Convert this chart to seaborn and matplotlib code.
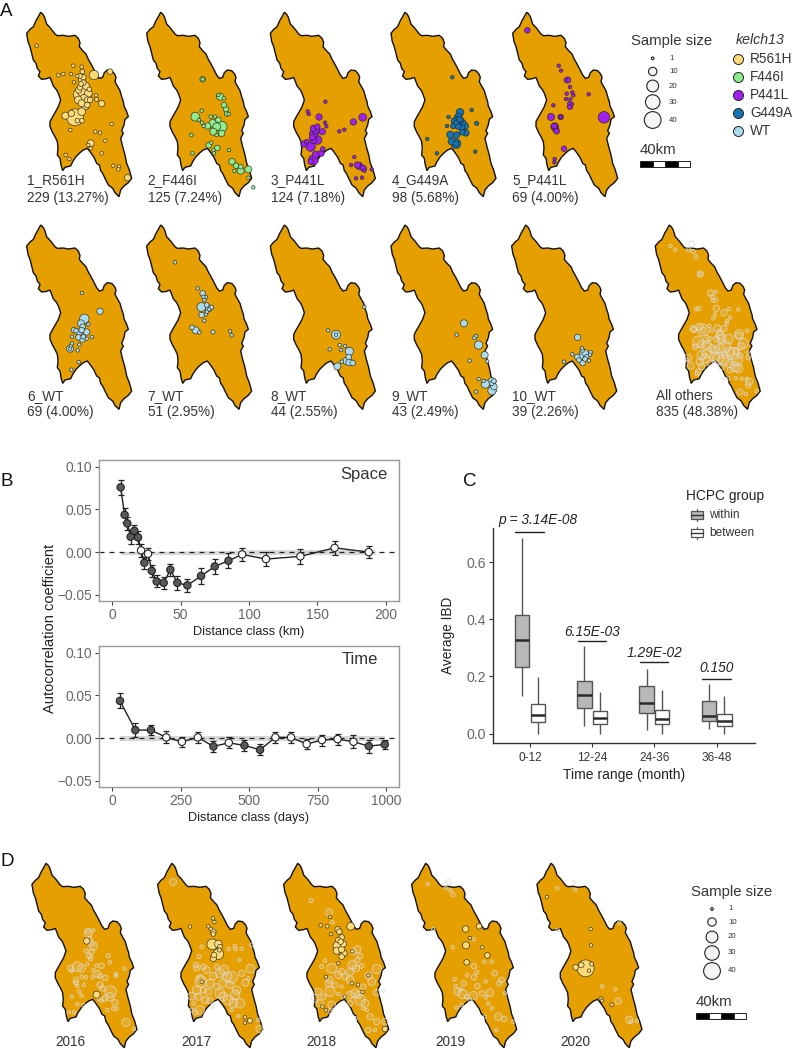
import matplotlib
matplotlib.use("Agg")
import matplotlib.pyplot as plt
from matplotlib.patches import Rectangle
import numpy as np
import pandas as pd
import seaborn as sns

sns.set_theme(style="white")
plt.rcParams["font.family"] = ["Liberation Sans", "DejaVu Sans"]

W, H = 793, 1049

# ---------- province outline, in map units ----------
OUTLINE_X = [122,128,133,137,140,152,165,172,190,205,225,235,240,238,248,258,265,272,280,290,298,308,313,322,335,344,348,345,352,360,365,370,372,380,385,375,372,365,370,362,368,375,380,388,395,385,372,362,357,345,338,325,315,308,302,298,290,282,270,262,250,240,228,218,212,195,188,183,180,172,174,172,165,158,150,150,158,165,175,182,175,170,160,155,150,140,125,115,120,112,108,100,95,90,84,80,90,100,108,115,122]
OUTLINE_Y = [37,42,50,62,72,85,102,107,106,109,106,115,128,140,152,162,178,190,205,225,235,232,218,210,212,222,232,245,258,272,290,305,318,335,350,358,375,392,400,415,440,465,490,510,535,548,558,570,590,578,565,555,535,520,512,495,490,472,455,445,450,458,470,485,498,502,512,495,475,465,445,425,410,398,380,365,350,338,320,300,280,270,258,245,232,236,238,228,215,205,190,180,160,140,125,100,88,80,62,50,37]

# ---------- sampling sites per panel: (x, y, sample size) ----------
R561H = [(225,352,30),(241,283,20),(282,225,9),(250,272,16),(255,305,9),(262,290,8),(265,280,6),(258,258,5),(245,240,4),(250,232,3),(240,228,2),(247,215,2),(245,200,1),(220,197,1),(213,222,1),(190,222,1),(175,226,1),(222,247,1),(305,311,4),(290,298,1.5),(288,286,1),(256,318,6),(245,335,6),(214,340,4),(196,347,5),(211,390,1),(232,228,1),(330,215,3),(335,372,1),(286,395,1),(300,398,1),(316,422,1),(272,430,5),(265,435,1),(272,445,1),(305,460,1),(197,465,1),(208,477,1),(340,497,1),(357,500,1),(355,508,1),(383,533,4),(110,137,1),(250,248,3),(240,262,3),(268,268,2),(262,315,3),(235,300,6),(270,300,3),(232,362,2),(246,362,2),(243,252,2),(252,295,6),(245,310,5),(236,270,4),(262,300,4)]
F446I = [(248,238,3),(248,238,1),(226,350,8),(245,332,1),(237,360,1),(246,368,1),(251,378,1),(263,378,4),(278,370,6),(290,380,6),(305,380,12),(295,360,3),(280,395,5),(290,405,1),(305,400,4),(285,350,1),(272,350,1),(214,405,1),(266,436,3),(274,428,1),(292,444,3),(280,450,1),(282,460,1),(217,460,1),(327,450,1),(300,290,5),(295,285,1),(312,295,1),(312,315,3),(318,328,3),(320,342,2),(326,342,1),(336,485,4),(348,497,3),(362,512,5),(385,508,5),(343,513,1),(362,500,2),(385,533,1),(400,562,1)]
P441L_3 = [(245,305,1),(192,334,1),(195,342,1),(226,351,4),(244,368,1),(248,379,1),(236,395,4),(209,385,4),(216,390,6),(221,380,3),(211,400,8),(206,412,4),(221,420,8),(209,420,5),(181,432,4),(201,440,9),(189,425,2),(232,460,4),(216,464,5),(209,480,10),(201,485,3),(237,447,2),(329,366,4),(357,352,6),(287,394,1),(302,389,1),(332,471,1),(322,495,1),(341,495,4),(347,498,5),(359,505,4),(362,512,1),(337,535,1),(355,533,1),(384,508,1)]
G449A = [(264,232,1),(322,330,1),(253,351,1),(337,370,1.5),(248,378,1),(189,417,1),(218,460,1),(333,455,1),(287,337,6),(282,350,5),(277,358,4),(289,360,4),(269,362,3),(277,368,3),(295,368,4),(302,378,5),(267,378,3),(282,380,3),(292,383,4),(277,405,4),(258,404,5),(294,397,3),(305,399,4),(262,424,5),(275,431,10),(275,431,3),(285,358,3)]
P441L_5 = [(124,91,3),(218,197,1),(225,212,1),(245,240,4),(239,240,1),(252,261,1),(242,281,1),(259,277,1),(262,286,1),(240,297,1),(253,298,1),(308,283,1),(202,316,1),(252,320,3),(258,312,1),(250,310,1),(195,351,5),(224,351,3),(224,351,1),(354,352,14),(206,380,6),(205,378,3),(209,388,4),(212,394,3),(234,446,3),(206,477,1),(205,487,1)]
WT_6 = [(246,241,1),(300,296,4),(253,318,9),(243,332,5),(248,342,3),(265,335,1),(222,352,3),(228,354,2),(237,359,4),(260,358,4),(245,352,3),(235,374,3),(247,379,4),(260,378,1),(276,373,1),(216,372,1),(238,396,1),(216,392,1),(213,399,1),(210,408,5),(210,408,1),(233,413,1),(236,448,1),(214,471,1),(250,372,2)]
WT_7 = [(165,149,1),(233,227,1),(248,242,3),(250,252,1),(258,254,1),(253,262,1),(244,283,8),(260,277,2),(266,287,4),(274,284,2),(261,297,1),(245,307,3),(258,305,1),(253,324,1),(216,344,2),(227,353,5),(238,359,1),(279,358,1.5),(330,355,1),(335,368,1),(268,290,1)]
WT_8 = [(253,353,1),(277,366,8),(277,366,1),(288,397,1),(304,400,1),(258,410,1),(292,412,1),(317,416,7),(315,433,3),(309,445,6),(317,449,5),(327,451,3),(294,447,1),(281,461,5),(362,283,1)]
WT_9 = [(299,332,5),(277,366,1),(331,375,1.5),(336,370,1),(343,397,7),(361,427,5),(369,446,1),(316,444,1),(343,499,1),(363,514,7),(383,507,7),(389,522,4),(383,534,7),(389,505,2),(336,537,1),(358,505,1),(382,512,2)]
WT_10 = [(278,374,4),(262,425,1),(237,447,1),(291,407,1),(292,412,2),(297,424,9),(287,432,3),(277,433,3),(282,442,2),(293,451,3),(312,444,1),(317,419,1.5),(315,426,1),(305,432,2),(300,439,2)]
OTHERS = [(126,100,1),(140,111,1),(180,111,1.5),(189,94,4),(194,117,1.5),(202,132,1.5),(215,184,4),(215,184,1),(246,241,4),(262,238,1),(252,252,2),(262,262,1.5),(254,264,1),(263,287,4),(203,289,1),(211,287,1.5),(286,300,4),(301,289,1),(329,290,1),(259,305,1),(254,317,1),(305,314,1),(295,325,1),(294,332,1),(243,339,1),(224,352,14),(224,352,3),(212,342,5),(194,348,4),(196,351,3),(266,347,5),(286,347,4),(249,354,1),(274,359,3),(356,354,1),(331,365,9),(331,369,5),(299,379,10),(274,369,8),(279,379,8),(264,379,4),(234,372,1),(246,377,1),(209,387,14),(219,395,6),(234,397,9),(344,392,10),(337,401,5),(289,402,14),(274,407,9),(259,412,6),(314,422,14),(304,417,9),(324,442,14),(334,429,4),(357,419,1),(234,422,8),(219,427,9),(229,437,8),(214,447,6),(179,435,5),(174,442,1),(186,459,5),(269,437,14),(284,442,12),(259,432,9),(319,462,10),(304,452,8),(329,467,8),(279,462,4),(304,472,3),(219,462,4),(209,477,3),(244,452,3),(206,483,2),(284,497,1),(299,497,1),(321,497,1),(339,498,1),(354,499,1),(362,507,5),(359,517,3),(384,535,1),(334,538,4),(352,544,1),(359,435,2),(324,415,4),(289,427,5),(249,407,6),(199,402,3),(239,387,1)]

G2016 = [(249,247,6),(248,240,3),(264,238,1),(254,262,2),(259,277,3),(264,285,7),(242,300,1.5),(259,302,3),(252,315,3),(256,322,2),(246,339,1),(309,314,1.5),(314,334,1),(216,347,10),(229,352,6),(196,352,4),(199,359,1),(289,344,3),(274,344,1),(264,357,1),(276,369,5),(284,375,2),(262,379,1),(242,379,1),(229,377,1),(212,387,3),(212,395,2),(216,405,1),(236,402,1),(332,369,1),(332,375,1),(358,353,1),(300,381,3),(284,402,4),(292,412,3),(316,422,14),(314,437,7),(329,455,4),(299,442,3),(281,444,1),(289,449,1),(222,422,1),(229,434,1),(199,437,1),(216,460,1),(234,462,1),(324,473,1),(334,473,1),(306,477,1),(190,484,1),(206,484,1),(362,514,7),(386,534,1)]
Y2016 = [(244,270,4),(274,431,5)]
G2017 = [(126,93,5),(212,287,1),(204,317,1.5),(293,294,1),(311,285,1),(313,294,1),(332,293,1),(325,327,1),(358,353,8),(332,367,4),(352,382,1),(343,395,5),(195,342,3),(197,352,3),(217,347,3),(227,357,5),(257,347,2),(302,379,14),(279,357,10),(289,377,9),(267,367,8),(247,375,6),(210,392,14),(207,382,6),(237,397,7),(257,407,4),(275,397,6),(297,402,5),(317,417,7),(312,432,9),(267,427,10),(277,437,8),(292,447,10),(307,457,8),(327,457,9),(197,417,8),(182,435,6),(202,437,5),(217,417,4),(232,422,5),(222,447,5),(237,449,4),(189,457,1.5),(207,477,8),(192,484,3),(182,477,1.5),(245,467,1),(302,477,1),(322,495,1),(385,534,5),(382,507,1),(359,507,1),(247,239,2),(362,282,1.5)]
Y2017 = [(177,227,1),(246,202,1),(250,213,1),(232,226,1),(239,233,1),(247,242,3),(247,249,2),(244,280,12),(262,279,6),(267,287,2),(262,309,12),(249,312,3),(247,322,4),(212,392,1),(342,499,1),(357,509,2.5),(342,515,1),(265,297,1.5)]
G2018 = [(162,149,1.5),(216,184,5),(226,214,1),(301,295,5),(289,302,3),(309,315,3),(301,327,3),(194,347,1.5),(204,329,1),(224,352,10),(359,354,9),(314,345,2),(286,342,8),(279,362,6),(297,352,5),(334,374,5),(254,362,4),(244,372,5),(219,387,4),(264,377,4),(279,387,6),(344,392,6),(359,425,4),(381,419,1),(214,397,5),(234,402,3),(219,422,10),(184,422,5),(199,437,3),(174,442,6),(189,457,5),(224,462,6),(279,457,3),(294,427,8),(279,432,6),(309,447,12),(324,457,6),(304,432,5),(319,407,3),(259,437,1.5),(254,407,1),(329,477,1),(339,497,4),(359,512,4),(384,512,4),(334,537,3),(297,502,1),(354,537,1),(219,482,1.5),(244,429,1),(319,472,1)]
Y2018 = [(281,226,6),(242,235,3),(247,242,3),(254,259,3),(259,279,4),(242,285,9),(239,299,5),(254,295,4),(261,307,4),(254,317,3),(244,267,3),(251,272,3),(244,337,1),(219,198,1),(191,223,1),(211,226,1),(222,249,1),(286,301,1),(207,378,1),(285,397,1),(303,401,1),(334,373,1),(317,423,1),(263,437,1),(196,467,1),(207,478,1),(384,534,3)]
G2019 = [(128,99,1),(190,94,3),(182,111,1),(196,118,1),(204,131,1.5),(145,235,1),(267,265,1),(203,289,1),(298,332,1),(320,332,1),(267,345,3),(247,372,1),(275,364,1.5),(267,379,3),(209,385,1),(329,367,3),(350,387,3),(343,397,3),(302,391,1),(277,405,3),(236,397,3),(212,405,1),(227,415,1),(217,422,5),(233,429,9),(245,437,2),(265,434,7),(291,427,3),(315,425,6),(303,439,1),(310,457,1),(230,462,1),(255,447,1),(215,470,1),(320,472,1),(360,427,1),(340,497,6),(358,504,3),(300,497,1),(335,537,1),(385,512,1)]
Y2019 = [(242,234,4),(282,226,3),(255,261,1),(243,283,5),(292,289,1),(307,313,3),(245,334,3)]
G2020 = [(141,112,1),(190,94,1),(195,117,1),(142,237,1),(276,406,1),(315,415,1),(324,450,4),(357,506,5),(361,513,1),(379,510,1),(327,215,1)]
Y2020 = [(110,138,1),(241,234,1),(242,283,1),(226,352,30),(213,342,3),(196,349,3),(244,339,1.5),(236,359,1),(272,444,1.5),(275,449,1),(304,461,1)]

# ---------- panel B: spatial and temporal autocorrelation ----------
SPACE_KM = [6.3,9.2,11.2,13.6,16.3,19,21.2,23.6,26.3,29,32.6,37.7,42.6,47.7,55,65,75,85,95,112.4,137.5,162.5,187.4]
SPACE_R = [.076,.0437,.0336,.018,.025,.0172,.002,-.0125,-.002,-.022,-.0344,-.036,-.0207,-.036,-.039,-.028,-.0168,-.0102,-.0027,-.0082,-.005,.005,0]
SPACE_ERR = [.0085,.008,.008,.008,.007,.008,.008,.007,.007,.007,.007,.007,.007,.008,.008,.009,.009,.009,.008,.008,.009,.008,.007]
SPACE_SIG = [1,1,1,1,1,1,0,1,0,1,1,1,1,1,1,1,1,1,0,0,0,0,0]
SPACE_BAND_LOW = [-.003,-.003,-.003,-.003,-.003,-.003]
SPACE_BAND_HIGH = [.0005,.001,.002,.003,.003,.003]
SPACE_BAND_X = [6,40,80,112,150,192]

TIME_DAYS = [29,85,142,198,255,313,370,426,483,540,596,653,710,766,823,881,937,995]
TIME_R = [.0437,.0094,.0094,.0008,-.0043,.0008,-.0098,-.0055,-.0086,-.0137,.0008,.0008,-.007,-.0023,-.0012,-.0043,-.0094,-.0074]
TIME_ERR = [.0088,.008,.006,.007,.006,.006,.0065,.0065,.006,.0065,.0065,.006,.006,.0065,.0065,.0075,.0075,.005]
TIME_SIG = [1,1,1,0,0,0,1,0,1,1,0,0,0,0,0,0,1,1]
TIME_BAND_LOW = [-.003,-.003,-.003]
TIME_BAND_HIGH = [.003,.003,.003]
TIME_BAND_X = [29,500,995]

# ---------- panel C: five-number summaries of average IBD ----------
TIME_RANGES = ["0-12", "12-24", "24-36", "36-48"]
WITHIN = [[.133,.232,.328,.414,.684],[.027,.089,.135,.183,.305],[.013,.0735,.107,.168,.225],[.0175,.044,.063,.113,.174]]
BETWEEN = [[0,.042,.064,.104,.197],[0,.035,.054,.08,.146],[0,.033,.05,.082,.152],[0,.026,.043,.069,.13]]
P_LABELS = ["p = 3.14E-08", "6.15E-03", "1.29E-02", "0.150"]
P_BAR_Y = [.706, .3256, .25, .1925]
P_TEXT_Y = [.748, .357, .2835, .2287]

HAPLOTYPES = ["R561H", "F446I", "P441L", "G449A", "WT"]
HAP_COLORS = ["#FBDB78", "#8FEB90", "#A020F0", "#1474B4", "#ABDCEC"]
SIZE_BREAKS = [1, 10, 20, 30, 40]
MAP_FILL = "#E69F00"
TXT = "#3A3333"
AREA_PER_SAMPLE = 3.64
BUBBLE_AREA_RANGE = (6.5, 40 * 1.35 * AREA_PER_SAMPLE)

fig = plt.figure(figsize=(W / 100, H / 100), dpi=100, facecolor="white")


def px_axes(x0, y0, w, h, **kw):
    """Add axes placed by pixel rectangle, origin at the top-left of the figure."""
    return fig.add_axes([x0 / W, 1 - (y0 + h) / H, w / W, h / H], **kw)


overlay = px_axes(0, 0, W, H, zorder=10)
overlay.set_xlim(0, W)
overlay.set_ylim(H, 0)
overlay.axis("off")
overlay.patch.set_alpha(0)


def label(x, y, s, size=9.8, ha="left", va="center", color=TXT, **kw):
    overlay.text(x, y, s, fontsize=size, ha=ha, va=va, color=color, **kw)


def bubbles(ax, sites, face, edge, lw, face_alpha=1.0, edge_alpha=0.85):
    df = pd.DataFrame(sites, columns=["x", "y", "n"]).sort_values("n", ascending=False)
    before = len(ax.collections)
    sns.scatterplot(data=df, x="x", y="y", size="n", size_norm=(1, 40), sizes=BUBBLE_AREA_RANGE,
                    color=face, edgecolor=edge, linewidth=lw, legend=False, ax=ax, clip_on=False)
    pts = ax.collections[before]
    pts.set_alpha(None)
    pts.set_facecolor(matplotlib.colors.to_rgba(face, face_alpha))
    pts.set_edgecolor(matplotlib.colors.to_rgba(edge, edge_alpha))
    ax.set_xlabel("")
    ax.set_ylabel("")


def draw_map(dx, dy, layers):
    ax = px_axes(dx, dy, 140, 640 / 3)
    ax.set_xlim(0, 420)
    ax.set_ylim(640, 0)
    ax.patch.set_alpha(0)
    ax.fill(OUTLINE_X, OUTLINE_Y, facecolor=MAP_FILL, edgecolor="#111111", linewidth=1.0, zorder=1)
    for layer in layers:
        bubbles(ax, *layer)
    ax.set_axis_off()
    return ax


def ring_layer(sites):
    return (sites, "#E6E6E6", "#DCDCDC", 0.6, 0.16, 0.8)


def hap_layer(sites, i):
    return (sites, HAP_COLORS[i], "#222222", 0.5)


# Panel A, first row
row1 = [(0, R561H, 0, "1_R561H", "229 (13.27%)", 27), (120, F446I, 1, "2_F446I", "125 (7.24%)", 147.5),
        (243.7, P441L_3, 2, "3_P441L", "124 (7.18%)", 270.7), (364.3, G449A, 3, "4_G449A", "98 (5.68%)", 391.7),
        (486, P441L_5, 2, "5_P441L", "69 (4.00%)", 512)]
for dx, sites, c, name, count, tx in row1:
    draw_map(dx, 0, [hap_layer(sites, c)])
    label(tx, 180, name)
    label(tx, 198, count)

# Panel A, second row
row2 = [(0, WT_6, "6_WT", "69 (4.00%)", 27), (120, WT_7, "7_WT", "51 (2.95%)", 147.5),
        (243.7, WT_8, "8_WT", "44 (2.55%)", 270.7), (364.3, WT_9, "9_WT", "43 (2.49%)", 391.7),
        (485, WT_10, "10_WT", "39 (2.26%)", 512)]
for dx, sites, name, count, tx in row2:
    draw_map(dx, 212.7, [hap_layer(sites, 4)])
    label(tx, 396, name)
    label(tx, 412, count)
draw_map(628.6, 212.7, [ring_layer(OTHERS)])
label(655.7, 396, "All others")
label(655.7, 412, "835 (48.38%)")

# Panel D, one map per sampling year
years = [(5.3, "2016", G2016, Y2016, 70), (131, "2017", G2017, Y2017, 196), (257, "2018", G2018, Y2018, 321.7),
         (385, "2019", G2019, Y2019, 450), (510.3, "2020", G2020, Y2020, 575)]
for dx, year, grey, yellow, cx in years:
    draw_map(dx, 851, [ring_layer(grey), hap_layer(yellow, 0)])
    label(cx, 1041.5, year, ha="center")


def size_legend(cx, title_x, title_y, ys, text_x):
    label(title_x, title_y, "Sample size", size=10.7, ha="center")
    s = [AREA_PER_SAMPLE * n for n in SIZE_BREAKS]
    overlay.scatter([cx] * 5, ys, s=s, facecolor="#F5F5F5", edgecolor="#222222", linewidth=0.8, zorder=3)
    for y, n in zip(ys, SIZE_BREAKS):
        label(text_x, y, str(n), size=5.6, color="#333333")


def scale_bar(x0, y0):
    label(x0, y0 - 11, "40km", size=10.7)
    for i in range(4):
        overlay.add_patch(Rectangle((x0 + i * 12.6, y0), 12.6, 6, facecolor="black" if i % 2 == 0 else "white",
                                    edgecolor="#222222", linewidth=0.7))


size_legend(652.7, 672, 41, [58.3, 71.5, 86, 102, 120], 669)
scale_bar(640, 160.5)
size_legend(712, 732, 892, [909, 922, 937, 953, 971], 728)
scale_bar(696, 1013)

# Haplotype colour key
label(735.7, 40.5, "kelch13", size=10.2, style="italic")
for y, name, col in zip([59, 77, 95, 113, 131], HAPLOTYPES, HAP_COLORS):
    overlay.scatter([738], [y], s=52, facecolor=col, edgecolor="#222222", linewidth=0.7, zorder=3)
    label(750, y, name, size=9.8)

# Panel letters
label(0, 11, "A", size=13.5, color="#111111")
label(0, 481, "B", size=13.5, color="#111111")
label(463, 481, "C", size=13.5, color="#111111")
label(0, 861, "D", size=13.5, color="#111111")


def correlogram(rect, x, r, err, sig, bx, lo, hi, xlim, ylim, xticks, xlabel, tag, tag_x, tag_y):
    ax = px_axes(*rect)
    df = pd.DataFrame({"d": x, "r": r, "sig": sig})
    ax.fill_between(bx, lo, hi, color="#D8D8D8", linewidth=0, zorder=1)
    ax.axhline(0, color="#222222", linewidth=0.9, dashes=(4, 4), zorder=1.5)
    sns.lineplot(data=df, x="d", y="r", color="#222222", linewidth=1.0, sort=False, errorbar=None, ax=ax, zorder=2)
    ax.errorbar(x, r, yerr=err, fmt="none", ecolor="#222222", elinewidth=0.9, capsize=2, capthick=0.9, zorder=2.5)
    sns.scatterplot(data=df, x="d", y="r", hue="sig", palette={1: "#595959", 0: "white"}, s=28,
                    edgecolor="#222222", linewidth=0.8, legend=False, ax=ax, zorder=3)
    ax.set_xlim(*xlim)
    ax.set_ylim(*ylim)
    ax.set_xticks(xticks)
    ax.set_yticks([-0.05, 0, 0.05, 0.10])
    ax.set_yticklabels(["\u22120.05", "0.00", "0.05", "0.10"])
    ax.tick_params(axis="both", which="major", labelsize=9.9, labelcolor="#666666", length=3, width=0.8,
                   color="#444444", bottom=True, left=True, pad=2)
    ax.set_xlabel(xlabel, fontsize=9.2, color="#222222", labelpad=3)
    ax.set_ylabel("")
    for sp in ax.spines.values():
        sp.set_color("#9A9A9A")
        sp.set_linewidth(1.0)
    label(tag_x, tag_y, tag, size=12, ha="center", color="#333333")
    return ax


correlogram((99, 460, 300, 140.7), SPACE_KM, SPACE_R, SPACE_ERR, SPACE_SIG, SPACE_BAND_X, SPACE_BAND_LOW,
            SPACE_BAND_HIGH, (-9.5, 209.5), (-0.057, 0.108), [0, 50, 100, 150, 200], "Distance class (km)",
            "Space", 364, 474)
correlogram((99, 646, 300, 140.7), TIME_DAYS, TIME_R, TIME_ERR, TIME_SIG, TIME_BAND_X, TIME_BAND_LOW,
            TIME_BAND_HIGH, (-47.5, 1047), (-0.057, 0.108), [0, 250, 500, 750, 1000], "Distance class (days)",
            "Time", 360, 659)
overlay.text(50, 628, "Autocorrelation coefficient", rotation=90, fontsize=10.5, ha="center", va="center",
             color="#222222")

# Panel C: the five-number summaries fix each box exactly when whiskers span the full range
rows = []
for group, table in (("within", WITHIN), ("between", BETWEEN)):
    for rng, five in zip(TIME_RANGES, table):
        rows += [{"range": rng, "group": group, "ibd": v} for v in five]
box_df = pd.DataFrame(rows)

axc = px_axes(492.7, 528, 262.3, 215.3)
sns.boxplot(data=box_df, x="range", y="ibd", hue="group", order=TIME_RANGES, hue_order=["within", "between"],
            palette={"within": "#B8B8B8", "between": "white"}, whis=(0, 100), width=0.5, gap=0.08, showcaps=False,
            linewidth=1.0, linecolor="#555555", medianprops={"linewidth": 1.8, "color": "#2A2A2A"},
            legend=False, ax=axc)
axc.set_xlim(-0.6, 3.617)
axc.set_ylim(-0.0336, 0.719)
axc.set_yticks([0, 0.2, 0.4, 0.6])
axc.set_yticklabels(["0.0", "0.2", "0.4", "0.6"])
axc.tick_params(axis="y", labelsize=10.2, labelcolor="#666666", left=True, length=3, width=0.8, color="#333333", pad=2)
axc.tick_params(axis="x", labelsize=8.6, labelcolor="#333333", bottom=True, length=3, width=0.8, color="#333333", pad=3)
axc.set_xlabel("Time range (month)", fontsize=10, color="#222222", labelpad=3)
axc.set_ylabel("Average IBD", fontsize=9.8, color="#222222", labelpad=8)
sns.despine(ax=axc)
for side in ("left", "bottom"):
    axc.spines[side].set_color("#333333")
    axc.spines[side].set_linewidth(1.0)
for i, (txt, by, ty) in enumerate(zip(P_LABELS, P_BAR_Y, P_TEXT_Y)):
    axc.plot([i - 0.235, i + 0.225], [by, by], color="#222222", linewidth=1.0, clip_on=False)
    axc.text(i + (0.128 if i == 0 else 0.0), ty, txt, fontsize=9.9, style="italic", ha="center", va="center",
             color="#222222")

# Box-plot key
label(686, 496, "HCPC group", size=9.9, color="#222222")
for y, name, col in zip([515, 533], ["within", "between"], ["#B8B8B8", "white"]):
    overlay.plot([696.7, 696.7], [y - 6, y + 6], color="#555555", linewidth=0.9, zorder=2)
    overlay.add_patch(Rectangle((690.7, y - 4), 12, 8, facecolor=col, edgecolor="#555555", linewidth=0.9, zorder=3))
    overlay.plot([690.7, 702.7], [y, y], color="#333333", linewidth=1.0, zorder=4)
    label(709, y, name, size=8.6, color="#333333")

fig.savefig("out.png", dpi=100)
